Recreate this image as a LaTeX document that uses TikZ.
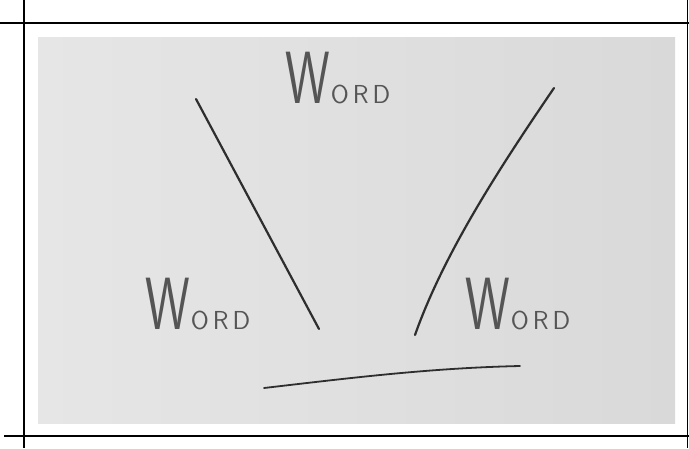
\documentclass[tikz,border=0pt]{standalone}
\usepackage{graphicx}
\definecolor{paperA}{HTML}{E6E6E6}
\definecolor{paperB}{HTML}{D9D9D9}
\definecolor{ink}{HTML}{2E2E2E}
\definecolor{pencil}{HTML}{555555}
\newcommand{\wordtext}{{\fontsize{74}{74}\selectfont\scalebox{0.68}[1]{W}}\hspace{1pt}{\fontsize{26}{26}\selectfont O\hspace{4pt}R\hspace{4pt}D}}
\begin{document}
\begin{tikzpicture}[x=1pt,y=-1pt,
  frameline/.style={line width=2.4pt,draw=black},
  stroke/.style={line width=2.2pt,draw=ink,line cap=round},
  word/.style={anchor=base west,inner sep=0pt,text=pencil,font=\sffamily}]
\useasboundingbox (0,0) rectangle (689,448);
\fill[white] (0,0) rectangle (689,448);
% paper
\shade[shading angle=45, left color=paperA, right color=paperB] (38,37) rectangle (675,423);
% frame
\draw[frameline] (0,23) -- (689,23);
\draw[frameline] (4,436) -- (689,436);
\draw[line width=1.5pt] (24,0) -- (24,448);
\draw[line width=1.5pt] (687.5,0) -- (687.5,448);
% words
\node[word] (wtop) at (285,103) {\wordtext};
\node[word] (wleft) at (145,329) {\wordtext};
\node[word] (wright) at (465,329) {\wordtext};
% strokes
\coordinate (l1) at (196,99);
\coordinate (l2) at (319,329);
\coordinate (r1) at (554,88);
\coordinate (r2) at (415,335);
\coordinate (b1) at (264,388);
\coordinate (b2) at (520,366);
\draw[stroke] (l1) -- (l2);
\draw[stroke] (r1) .. controls (505,160) and (445,250) .. (r2);
\draw[stroke,line width=1.8pt] (b1) .. controls (350,378) and (430,368) .. (b2);
\end{tikzpicture}
\end{document}
